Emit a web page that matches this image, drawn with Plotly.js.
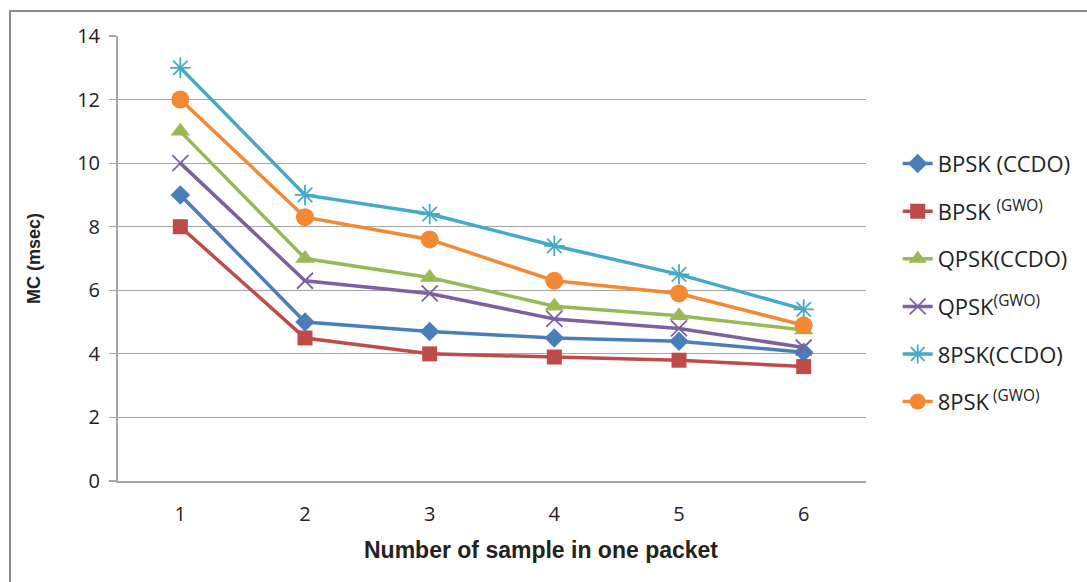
<!DOCTYPE html>
<html>
<head>
<meta charset="utf-8">
<script src="https://cdn.plot.ly/plotly-3.0.1.min.js"></script>
<style>
html,body{margin:0;padding:0;background:#fff;}
#wrap{position:relative;width:1087px;height:582px;}
#chart{width:1087px;height:582px;}
#frame{position:absolute;left:9px;top:10px;width:1100px;height:600px;border-left:2px solid #8c8c8c;border-top:2px solid #8c8c8c;pointer-events:none;}
</style>
</head>
<body>
<div id="wrap"><div id="chart"></div><div id="frame"></div></div>
<script>
const categories = [1, 2, 3, 4, 5, 6];
const seriesNames = ["BPSK (CCDO)", "BPSK <sup>(GWO)</sup>", "QPSK(CCDO)", "QPSK<sup>(GWO)</sup>", "8PSK(CCDO)", "8PSK<sup> (GWO)</sup>"];
const bpskCcdo = [9.0, 5.0, 4.7, 4.5, 4.4, 4.05];
const bpskGwo  = [8.0, 4.5, 4.0, 3.9, 3.8, 3.6];
const qpskCcdo = [11.0, 7.0, 6.4, 5.5, 5.2, 4.75];
const qpskGwo  = [10.0, 6.3, 5.9, 5.1, 4.8, 4.2];
const psk8Ccdo = [13.0, 9.0, 8.4, 7.4, 6.5, 5.4];
const psk8Gwo  = [12.0, 8.3, 7.6, 6.3, 5.9, 4.9];
const yTicks = [0, 2, 4, 6, 8, 10, 12, 14];

const colors = ["#4A7EBB", "#BE4B48", "#98B954", "#7D60A0", "#46AAC5", "#F38A33"];
const symbols = ["diamond", "square", "triangle-up", "x-thin-open", "asterisk-open", "circle"];
const sizes = [15, 15, 17, 16, 17, 18];
const values = [bpskCcdo, bpskGwo, qpskCcdo, qpskGwo, psk8Ccdo, psk8Gwo];

const traces = values.map((v, i) => ({
  x: categories, y: v, name: seriesNames[i], type: "scatter", mode: "lines+markers",
  legendgroup: "g" + i,
  line: {color: colors[i], width: 3.5},
  marker: {symbol: symbols[i], size: sizes[i], color: colors[i],
           line: {color: colors[i], width: (symbols[i].indexOf("open") >= 0 || symbols[i].indexOf("thin") >= 0) ? 1.8 : 0}}
}));

const layout = {
  width: 1087, height: 582,
  margin: {l: 118, r: 220, t: 36, b: 101},
  paper_bgcolor: "#fff", plot_bgcolor: "#fff",
  font: {family: "Open Sans, Liberation Sans, sans-serif", color: "#222"},
  xaxis: {
    range: [0.5, 6.5], tickvals: categories, ticktext: categories.map(String),
    showgrid: false, zeroline: false, showline: true, linecolor: "#a6a6a6", linewidth: 2,
    ticks: "", tickfont: {size: 20, family: "Open Sans, sans-serif", color: "#222"}, ticklabelstandoff: 14
  },
  yaxis: {
    range: [0, 14], tickvals: yTicks, ticktext: yTicks.map(String),
    showgrid: true, gridcolor: "#a6a6a6", gridwidth: 1.2, zeroline: false,
    showline: true, linecolor: "#a6a6a6", linewidth: 2,
    ticks: "outside", ticklen: 7, tickcolor: "#a6a6a6", tickwidth: 1.2, ticklabelstandoff: 5,
    tickfont: {size: 20, family: "Open Sans, sans-serif", color: "#222"},
    title: {text: "MC (msec)", font: {size: 18, family: "Liberation Sans, Arial, sans-serif", weight: "bold", color: "#222"}, standoff: 32}
  },
  showlegend: true,
  legend: {x: 1.041, xanchor: "left", y: 0.76, yanchor: "top", tracegroupgap: 16,
           font: {size: 22, family: "Open Sans, sans-serif", color: "#222"}, bgcolor: "rgba(0,0,0,0)"},
  annotations: [{
    text: "Number of sample in one packet", xref: "paper", yref: "paper",
    x: 0.565, y: -0.155, xanchor: "center", yanchor: "middle", showarrow: false,
    font: {size: 23, family: "Liberation Sans, Arial, sans-serif", weight: "bold", color: "#222"}
  }]
};

Plotly.newPlot("chart", traces, layout, {displayModeBar: false, staticPlot: true});
</script>
</body>
</html>
